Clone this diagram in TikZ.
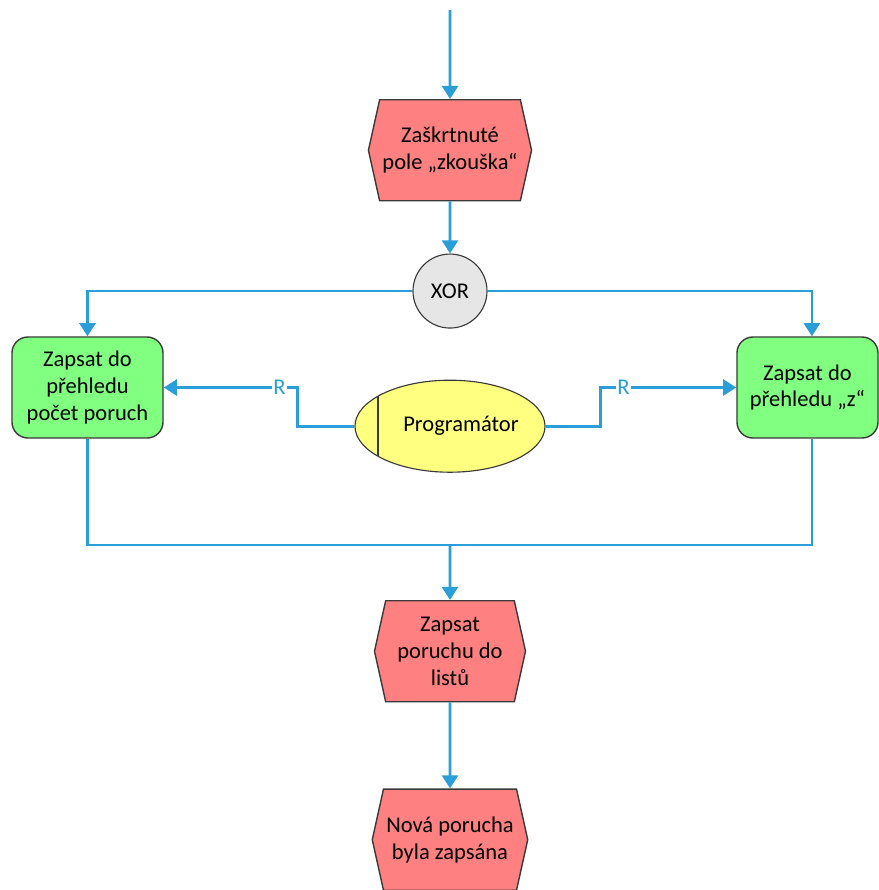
\documentclass[tikz,border=0pt]{standalone}
\usepackage{fontspec}
\setmainfont{Carlito}
\usetikzlibrary{shapes.geometric, shapes.symbols, arrows.meta, positioning}

\definecolor{eventred}{HTML}{FF8080}
\definecolor{funcgreen}{HTML}{80FF80}
\definecolor{unityellow}{HTML}{FFFF80}
\definecolor{gategrey}{HTML}{E6E6E6}
\definecolor{edgegrey}{HTML}{3A3A3A}
\definecolor{connblue}{HTML}{2A9ED8}

\begin{document}
\begin{tikzpicture}[
    x=0.025cm, y=-0.025cm,
    node distance=1.3cm,
    font=\fontsize{16}{19}\selectfont,
    event/.style={signal, signal to=west and east, signal pointer angle=155, draw=edgegrey, line width=1pt, fill=eventred, minimum width=3.775cm, minimum height=2.525cm, align=center, inner sep=2pt},
    func/.style={rectangle, rounded corners=0.4cm, draw=edgegrey, line width=1pt, fill=funcgreen, minimum width=3.775cm, minimum height=2.525cm, align=center},
    gate/.style={circle, draw=edgegrey, line width=0.8pt, fill=gategrey, minimum size=1.85cm, inner sep=0pt},
    unit/.style={ellipse, draw=edgegrey, line width=0.8pt, fill=unityellow, minimum width=4.75cm, minimum height=2.3cm,
        path picture={\draw[edgegrey, line width=1pt] ([xshift=0.575cm]path picture bounding box.north west) -- ([xshift=0.575cm]path picture bounding box.south west);}},
    arrow/.style={connblue, line width=2pt, -{Triangle[width=0.4cm, length=0.33cm]}},
    line/.style={connblue, line width=2pt},
    rel/.style={fill=white, text=connblue, inner sep=1pt}
]
    \useasboundingbox (0,0) rectangle (879,890);
    \coordinate (start) at (450,10);
    \node[event, below=2.225cm of start] (checked) {Zaškrtnuté\\pole „zkouška“};
    \node[gate, below=of checked] (xor) {XOR};
    \node[unit, below=1.275cm of xor, label={[xshift=0.275cm]center:Programátor}] (prog) {};
    \node[func] (count) at (87.5,387.5) {Zapsat do\\přehledu\\počet poruch};
    \node[func, minimum width=3.525cm] (zrec) at (807.5,387.5) {Zapsat do\\přehledu „z“};
    \coordinate (join) at (450,545);
    \node[event, below=1.375cm of join] (write) {Zapsat\\poruchu do\\listů};
    \node[event, below=2.15cm of write] (new) {Nová porucha\\byla zapsána};

    % Arrows
    \draw[arrow] (start) -- (checked);
    \draw[arrow] (checked) -- (xor);
    \draw[arrow] (xor) -| (count);
    \draw[arrow] (xor) -| ([xshift=0.11cm]zrec.north);
    \draw[arrow] (prog.west) -- ++(-57,0) |- node[rel, pos=0.567] {R} (count.east);
    \draw[arrow] (prog.east) -- ++(55,0) |- node[rel, pos=0.584] {R} (zrec.west);
    \draw[line] (count) |- (join);
    \draw[line] ([xshift=0.11cm]zrec.south) |- (join);
    \draw[arrow] (join) -- (write);
    \draw[arrow] (write) -- (new);
\end{tikzpicture}
\end{document}
